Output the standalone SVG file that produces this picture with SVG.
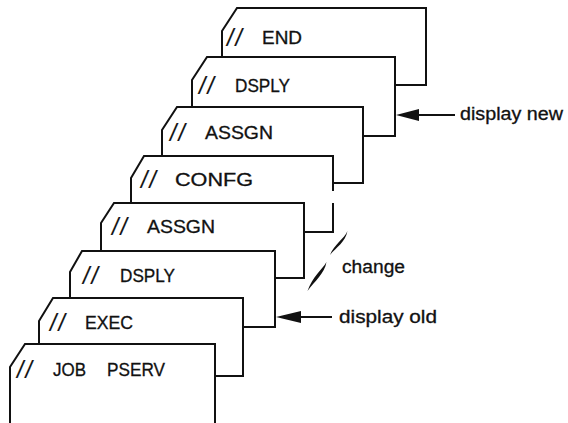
<svg xmlns="http://www.w3.org/2000/svg" width="568" height="423" viewBox="0 0 568 423">
  <style>
    .card { fill: none; stroke: #111; stroke-width: 2; stroke-linejoin: miter; stroke-linecap: butt; }
    .lbl { font-family: "Liberation Sans", Arial, sans-serif; font-size: 17.5px; fill: #111; stroke: #111; stroke-width: 0.3; }
    .sl { font-size: 23px; font-style: italic; letter-spacing: 2px; stroke-width: 0.2; }
    .note { font-family: "Liberation Sans", Arial, sans-serif; font-size: 17.5px; fill: #111; stroke: #111; stroke-width: 0.3; }
    .lead { stroke: #111; stroke-width: 2; fill: none; }
    .head { fill: #111; stroke: none; }
  </style>
  <rect width="568" height="423" fill="#fff"/>

  <!-- job-control cards, back of the deck first -->
  <g id="card-end">
    <path class="card" d="M222,57 V31 L237,8 H426 V85 H395"/>
    <text class="lbl" y="44"><tspan class="sl" x="227" y="46">//</tspan> <tspan x="262" y="44" textLength="40" lengthAdjust="spacingAndGlyphs">END</tspan></text>
  </g>
  <g id="card-dsply-new">
    <path class="card" d="M192,107 V80 L207,57 H395 V136 H363"/>
    <text class="lbl" y="92"><tspan class="sl" x="199" y="94">//</tspan> <tspan x="235" y="92" textLength="55" lengthAdjust="spacingAndGlyphs">DSPLY</tspan></text>
  </g>
  <g id="card-assgn-new">
    <path class="card" d="M162,156 V130 L177,107 H363 V183 H333"/>
    <text class="lbl" y="139"><tspan class="sl" x="170" y="141">//</tspan> <tspan x="205" y="139" textLength="68" lengthAdjust="spacingAndGlyphs">ASSGN</tspan></text>
  </g>
  <g id="card-confg">
    <path class="card" d="M131,203 V178 L144,156 H333 V191 M333,203 V232 H304"/>
    <text class="lbl" y="186"><tspan class="sl" x="141" y="188">//</tspan> <tspan x="175" y="186" textLength="78" lengthAdjust="spacingAndGlyphs">CONFG</tspan></text>
  </g>
  <g id="card-assgn-old">
    <path class="card" d="M101,251 V223 L114,203 H304 V278 H275"/>
    <text class="lbl" y="233"><tspan class="sl" x="112" y="235">//</tspan> <tspan x="147" y="233" textLength="68" lengthAdjust="spacingAndGlyphs">ASSGN</tspan></text>
  </g>
  <g id="card-dsply-old">
    <path class="card" d="M70,298 V272 L82,251 H275 V327 H243"/>
    <text class="lbl" y="282"><tspan class="sl" x="83" y="284">//</tspan> <tspan x="120" y="282" textLength="55" lengthAdjust="spacingAndGlyphs">DSPLY</tspan></text>
  </g>
  <g id="card-exec">
    <path class="card" d="M39,344 V321 L53,298 H243 V376 H215"/>
    <text class="lbl" y="329"><tspan class="sl" x="50" y="331">//</tspan> <tspan x="85" y="329" textLength="48" lengthAdjust="spacingAndGlyphs">EXEC</tspan></text>
  </g>
  <g id="card-job">
    <path class="card" d="M10,424 V367 L25,344 H215 V424"/>
    <text class="lbl" y="376"><tspan class="sl" x="17" y="378">//</tspan> <tspan x="53" y="376" textLength="33" lengthAdjust="spacingAndGlyphs">JOB</tspan> <tspan x="107" y="376" textLength="58" lengthAdjust="spacingAndGlyphs">PSERV</tspan></text>
  </g>

  <!-- pointers and the break mark -->
  <g id="connectors">
    <line class="lead" x1="418" y1="115" x2="455" y2="115"/>
    <polygon class="head" points="396,115 419,109 419,121"/>
    <line class="lead" x1="300" y1="317" x2="332" y2="317"/>
    <polygon class="head" points="276,317 301,311 301,323"/>
    <path class="head" d="M347.5,231 C344,239 334,244.5 330,255 C336.5,247 345.5,242 347.5,231 Z"/>
    <path class="head" d="M326.5,262 C322,270 312.5,276.5 307.5,291 C315,281 324.5,273.5 326.5,262 Z"/>
  </g>

  <g id="notes">
    <text class="note" x="460" y="120" textLength="103" lengthAdjust="spacingAndGlyphs">display new</text>
    <text class="note" x="342" y="273" textLength="63" lengthAdjust="spacingAndGlyphs">change</text>
    <text class="note" x="339" y="323" textLength="98" lengthAdjust="spacingAndGlyphs">display old</text>
  </g>
</svg>
